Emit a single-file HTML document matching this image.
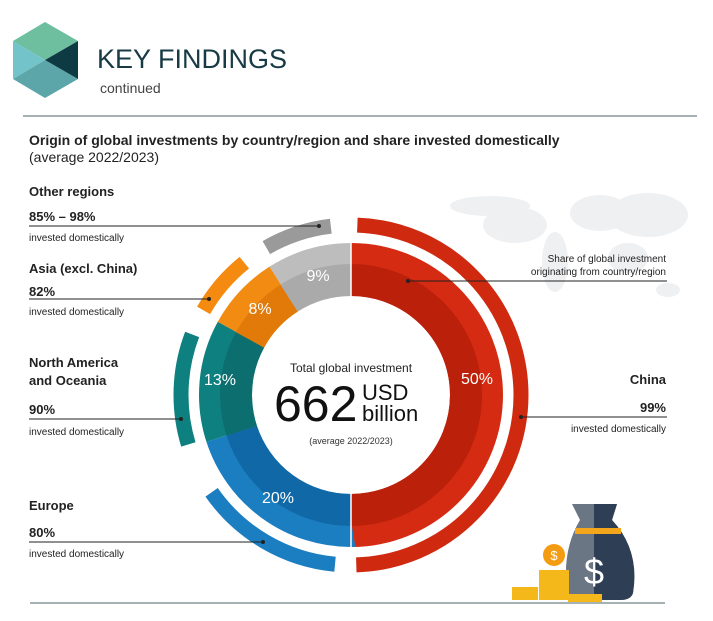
<!DOCTYPE html>
<html><head><meta charset="utf-8"><style>
body{margin:0;background:#fff;}
svg{display:block;font-family:"Liberation Sans",sans-serif;}
</style></head><body>
<svg width="713" height="621" viewBox="0 0 713 621">
<!-- logo -->
<polygon points="45,22 78,41 45,60 13,41" fill="#6dbfa0"/>
<polygon points="13,41 45,60 13,79" fill="#72c4ca"/>
<polygon points="13,79 45,60 78,79 45,98" fill="#5ca5a8"/>
<polygon points="78,41 78,79 45,60" fill="#0e3a44"/>
<text x="97" y="68" font-size="27" fill="#173a44">KEY FINDINGS</text>
<text x="100" y="93" font-size="14" fill="#444">continued</text>
<line x1="23" y1="116" x2="697" y2="116" stroke="#8a979c" stroke-width="1.5"/>
<!-- map -->
<g fill="#eff0f2">
<ellipse cx="490" cy="206" rx="40" ry="10"/>
<ellipse cx="515" cy="225" rx="32" ry="18"/>
<ellipse cx="555" cy="262" rx="13" ry="30"/>
<ellipse cx="600" cy="213" rx="30" ry="18"/>
<ellipse cx="648" cy="215" rx="40" ry="22"/>
<ellipse cx="628" cy="258" rx="20" ry="15"/>
<ellipse cx="668" cy="290" rx="12" ry="7"/>
</g>
<!-- title -->
<text x="29" y="145" font-size="14" font-weight="bold" fill="#222">Origin of global investments by country/region and share invested domestically</text>
<text x="29" y="162" font-size="14" fill="#222">(average 2022/2023)</text>
<!-- inner ring -->
<g transform="rotate(-90 351 395)" fill="none">
<circle cx="351" cy="395" r="125.5" stroke="#d52b12" stroke-width="53" pathLength="100" stroke-dasharray="50 50"/>
<circle cx="351" cy="395" r="115" stroke="#bb200b" stroke-width="32" pathLength="100" stroke-dasharray="50 50"/>
<circle cx="351" cy="395" r="125.5" stroke="#1b7ec1" stroke-width="53" pathLength="100" stroke-dasharray="20 100" stroke-dashoffset="-50"/>
<circle cx="351" cy="395" r="115" stroke="#1069a6" stroke-width="32" pathLength="100" stroke-dasharray="20 100" stroke-dashoffset="-50"/>
<circle cx="351" cy="395" r="125.5" stroke="#0f8080" stroke-width="53" pathLength="100" stroke-dasharray="13 100" stroke-dashoffset="-70"/>
<circle cx="351" cy="395" r="115" stroke="#0c6e6e" stroke-width="32" pathLength="100" stroke-dasharray="13 100" stroke-dashoffset="-70"/>
<circle cx="351" cy="395" r="125.5" stroke="#f28b12" stroke-width="53" pathLength="100" stroke-dasharray="8 100" stroke-dashoffset="-83"/>
<circle cx="351" cy="395" r="115" stroke="#e17a08" stroke-width="32" pathLength="100" stroke-dasharray="8 100" stroke-dashoffset="-83"/>
<circle cx="351" cy="395" r="125.5" stroke="#bdbdbd" stroke-width="53" pathLength="100" stroke-dasharray="9 100" stroke-dashoffset="-91"/>
<circle cx="351" cy="395" r="115" stroke="#aaaaaa" stroke-width="32" pathLength="100" stroke-dasharray="9 100" stroke-dashoffset="-91"/>
<!-- outer arcs -->
<circle cx="351" cy="395" r="170" stroke="#cf2a10" stroke-width="15" pathLength="100" stroke-dasharray="48.9 100" stroke-dashoffset="-0.6"/>
<circle cx="351" cy="395" r="170" stroke="#1b7ec1" stroke-width="15" pathLength="100" stroke-dasharray="13.8 100" stroke-dashoffset="-51.5"/>
<circle cx="351" cy="395" r="170" stroke="#0f8080" stroke-width="15" pathLength="100" stroke-dasharray="10.5 100" stroke-dashoffset="-70.3"/>
<circle cx="351" cy="395" r="170" stroke="#f58a10" stroke-width="15" pathLength="100" stroke-dasharray="5.9 100" stroke-dashoffset="-83.3"/>
<circle cx="351" cy="395" r="170" stroke="#9a9a9a" stroke-width="15" pathLength="100" stroke-dasharray="6.4 100" stroke-dashoffset="-91.7"/>
</g>
<line x1="351" y1="242" x2="351" y2="549" stroke="#fff" stroke-width="1.5"/>
<line x1="351" y1="560" x2="351" y2="580" stroke="#fff" stroke-width="4"/>
<!-- center -->
<text x="351" y="372" font-size="12" fill="#222" text-anchor="middle">Total global investment</text>
<text x="274" y="421" font-size="50" fill="#111">662</text>
<text x="362" y="400" font-size="22" fill="#111">USD</text>
<text x="362" y="421" font-size="22" fill="#111">billion</text>
<text x="351" y="444" font-size="9" fill="#333" text-anchor="middle">(average 2022/2023)</text>
<g font-size="16" fill="#fff" text-anchor="middle">
<text x="477" y="384">50%</text>
<text x="278" y="503">20%</text>
<text x="220" y="385">13%</text>
<text x="260" y="314">8%</text>
<text x="318" y="281">9%</text>
</g>
<!-- left labels -->
<g fill="#222">
<text x="29" y="196" font-size="13" font-weight="bold">Other regions</text>
<text x="29" y="221" font-size="13" font-weight="bold">85% – 98%</text>
<text x="29" y="241" font-size="10">invested domestically</text>
<text x="29" y="273" font-size="13" font-weight="bold">Asia (excl. China)</text>
<text x="29" y="296" font-size="13" font-weight="bold">82%</text>
<text x="29" y="315" font-size="10">invested domestically</text>
<text x="29" y="367" font-size="13" font-weight="bold">North America</text>
<text x="29" y="385" font-size="13" font-weight="bold">and Oceania</text>
<text x="29" y="414" font-size="13" font-weight="bold">90%</text>
<text x="29" y="435" font-size="10">invested domestically</text>
<text x="29" y="510" font-size="13" font-weight="bold">Europe</text>
<text x="29" y="537" font-size="13" font-weight="bold">80%</text>
<text x="29" y="557" font-size="10">invested domestically</text>
<text x="666" y="384" font-size="13" font-weight="bold" text-anchor="end">China</text>
<text x="666" y="412" font-size="13" font-weight="bold" text-anchor="end">99%</text>
<text x="666" y="432" font-size="10" text-anchor="end">invested domestically</text>
<text x="666" y="262" font-size="10" text-anchor="end">Share of global investment</text>
<text x="666" y="275" font-size="10" text-anchor="end">originating from country/region</text>
</g>
<g stroke="#222" stroke-width="1">
<line x1="29" y1="226" x2="319" y2="226"/>
<line x1="29" y1="299" x2="209" y2="299"/>
<line x1="29" y1="419" x2="181" y2="419"/>
<line x1="29" y1="542" x2="263" y2="542"/>
<line x1="521" y1="417" x2="667" y2="417"/>
<line x1="408" y1="281" x2="667" y2="281"/>
</g>
<g fill="#222">
<circle cx="319" cy="226" r="2"/><circle cx="209" cy="299" r="2"/><circle cx="181" cy="419" r="2"/>
<circle cx="263" cy="542" r="2"/><circle cx="521" cy="417" r="2"/><circle cx="408" cy="281" r="2"/>
</g>
<!-- money bag -->
<path d="M572,504 L617,504 L612,520 Q640,550 633,593 Q631,600 620,600 L580,600 Q565,600 567,590 Q562,550 580,520 Z" fill="#6a7684"/>
<path d="M594,504 L617,504 L612,520 Q640,550 633,593 Q631,600 620,600 L594,600 Z" fill="#2e3f55"/>
<rect x="575" y="528" width="46" height="6" fill="#f3a51c"/>
<text x="594" y="584" font-size="36" fill="#fff" text-anchor="middle">$</text>
<g fill="#f5b81a">
<rect x="512" y="587" width="26" height="13"/>
<rect x="539" y="570" width="30" height="30"/>
<rect x="568" y="594" width="34" height="8"/>
</g>
<circle cx="554" cy="555" r="11" fill="#f39c12"/>
<text x="554" y="560" font-size="13" fill="#fff" text-anchor="middle">$</text>
<line x1="30" y1="603" x2="665" y2="603" stroke="#8a979c" stroke-width="1.5"/>
</svg>
</body></html>
